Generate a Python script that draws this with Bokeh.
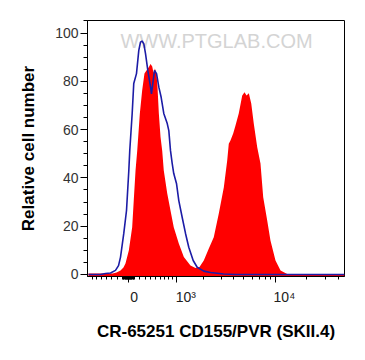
import numpy as np
from bokeh.plotting import figure
from bokeh.models import FixedTicker, LinearAxis, Range1d
from bokeh.embed import file_html
from bokeh.resources import INLINE
from bokeh.core.properties import value

# Biexponential display transform (position in "decades")
BIEX_W = 800.0


def biex(v):
    return np.arcsinh(np.asarray(v, dtype=float) / BIEX_W) / np.log(10)


# ---- data: histogram positions (biex display units) and relative counts (%)
ctrl_pos = [-0.381, -0.267, -0.219, -0.171, -0.124, -0.095, -0.076, -0.045, -0.019,
            0.003, 0.012, 0.035, 0.050, 0.076, 0.098, 0.114, 0.129, 0.146, 0.162,
            0.184, 0.210, 0.219, 0.235, 0.248, 0.267, 0.289, 0.311, 0.336, 0.369,
            0.384, 0.400, 0.416, 0.431, 0.457, 0.479, 0.511, 0.543, 0.574, 0.616,
            0.654, 0.717, 0.781, 0.905, 1.019, 2.057]
ctrl_pct = [0.0, 0.0, 0.4, 0.6, 1.7, 3.7, 7.2, 17.0, 26.5,
            43.1, 51.3, 66.7, 79.1, 83.2, 92.8, 96.2, 96.7, 95.5, 91.5,
            84.5, 77.6, 74.8, 80.3, 84.5, 83.2, 77.6, 73.4, 66.7, 62.5,
            59.6, 51.3, 46.0, 41.8, 37.7, 30.6, 23.7, 17.0, 11.3, 5.8,
            3.0, 1.4, 0.8, 0.2, 0.0, 0.0]

samp_pos = [-0.381, -0.219, -0.152, -0.114, -0.076, -0.048, -0.029, 0.003, 0.035,
            0.050, 0.067, 0.083, 0.108, 0.130, 0.152, 0.171, 0.193, 0.210, 0.226,
            0.238, 0.252, 0.267, 0.276, 0.289, 0.305, 0.321, 0.336, 0.369, 0.400,
            0.431, 0.479, 0.527, 0.590, 0.638, 0.676, 0.717, 0.765, 0.812, 0.860,
            0.908, 0.940, 0.955, 0.971, 0.997, 1.019, 1.050, 1.083, 1.105, 1.124,
            1.146, 1.169, 1.193, 1.226, 1.257, 1.283, 1.321, 1.352, 1.400, 1.448,
            1.511, 1.590, 2.057]
samp_pct = [0.4, 0.4, 0.4, 0.8, 1.7, 2.9, 4.6, 9.9, 19.6,
            30.6, 43.1, 51.3, 66.7, 76.2, 83.2, 84.5, 85.8, 87.2, 86.1,
            83.6, 85.3, 82.8, 77.8, 66.7, 56.9, 51.3, 43.1, 33.5, 26.5,
            19.6, 12.8, 7.2, 3.7, 2.7, 3.1, 5.8, 10.8, 15.4, 25.3,
            36.1, 47.2, 54.2, 55.5, 58.4, 61.7, 66.7, 74.1, 75.5, 74.1,
            75.1, 70.8, 62.5, 52.7, 46.0, 32.0, 22.4, 14.1, 5.8, 1.7,
            0.2, 0.0, 0.0]

x_major_vals = [0, 1000, 10000]
x_major_text = ["0", "10\u00b3", "10\u2074"]
x_minor_vals = ([-700, -600, -500, -400, -300, -200]
                + list(range(-100, 101, 10))
                + [200, 300, 400, 500, 600, 700, 800, 900]
                + [2000, 3000, 4000, 5000, 6000, 7000, 8000, 9000]
                + [20000, 30000, 40000])
y_major = [0, 20, 40, 60, 80, 100]
y_minor = list(range(0, 106, 5))

X_START, X_END = -0.3905, 2.0571
Y_START, Y_END = -0.83, 105.2
PX_PER_UNIT = 105.0
label_shift_px = [5.7, 9.5, 9.0]   # labels sit a little right of their ticks

FONT = "Liberation Sans"

p = figure(width=357, height=352, output_backend="svg", toolbar_location=None,
           x_range=Range1d(X_START, X_END), y_range=Range1d(Y_START, Y_END),
           min_border_left=87, min_border_right=13, min_border_top=20,
           min_border_bottom=76)
p.xgrid.visible = False
p.ygrid.visible = False
p.outline_line_color = "black"
p.outline_line_width = 1
p.outline_line_alpha = 1.0
p.background_fill_color = "white"
p.border_fill_color = "white"

# watermark
p.text(x=[0.838], y=[96.9], text=["WWW.PTGLAB.COM"], text_font=value(FONT),
       text_font_size="20px", text_color="#d4d4d4", text_align="center",
       text_baseline="middle")

# sample (filled red) and control (blue line)
p.varea(x=samp_pos, y1=Y_START, y2=samp_pct, fill_color="#ff0000", fill_alpha=1.0)
p.line(ctrl_pos, ctrl_pct, line_color="#1c1ca6", line_width=1.6)

# y axis
ya = p.yaxis[0]
ya.ticker = FixedTicker(ticks=y_major, minor_ticks=y_minor)
ya.axis_label = "Relative cell number"
ya.axis_label_text_font = FONT
ya.axis_label_text_font_style = "bold"
ya.axis_label_text_font_size = "17px"
ya.axis_label_text_color = "black"
ya.axis_label_standoff = 14
ya.major_label_text_font = FONT
ya.major_label_text_font_size = "14px"
ya.major_label_text_color = "#333333"
ya.major_label_standoff = 2
ya.major_tick_out = 7
ya.major_tick_in = 0
ya.minor_tick_out = 4
ya.minor_tick_in = 0
ya.axis_line_color = "black"
ya.major_tick_line_color = "black"
ya.minor_tick_line_color = "black"

# x axis: ticks only (nearest the frame)
xmaj = [float(v) for v in biex(x_major_vals)]
xmin = [float(v) for v in biex(x_minor_vals)]
xa = p.xaxis[0]
xa.ticker = FixedTicker(ticks=xmaj, minor_ticks=xmin)
xa.major_label_overrides = {t: "" for t in xmaj}
xa.major_label_text_font_size = "0px"
xa.major_label_standoff = 0
xa.major_tick_out = 6
xa.major_tick_in = 0
xa.minor_tick_out = 3
xa.minor_tick_in = 0
xa.axis_line_color = "black"
xa.major_tick_line_color = "black"
xa.minor_tick_line_color = "black"

# x axis: labels + title (below the tick axis)
lab_pos = [t + s / PX_PER_UNIT for t, s in zip(xmaj, label_shift_px)]
xb = LinearAxis(ticker=FixedTicker(ticks=lab_pos, minor_ticks=[]))
xb.major_label_overrides = {t: s for t, s in zip(lab_pos, x_major_text)}
xb.major_label_text_font = FONT
xb.major_label_text_font_size = "14px"
xb.major_label_text_color = "#222222"
xb.major_label_standoff = 6
xb.major_tick_out = 0
xb.major_tick_in = 0
xb.minor_tick_out = 0
xb.minor_tick_in = 0
xb.axis_line_color = None
xb.major_tick_line_color = None
xb.minor_tick_line_color = None
xb.axis_label = "CR-65251 CD155/PVR (SKII.4)"
xb.axis_label_text_font = FONT
xb.axis_label_text_font_style = "bold"
xb.axis_label_text_font_size = "17px"
xb.axis_label_text_color = "black"
xb.axis_label_standoff = 14
p.add_layout(xb, "below")

open("out.html", "w").write(file_html(p, INLINE))
